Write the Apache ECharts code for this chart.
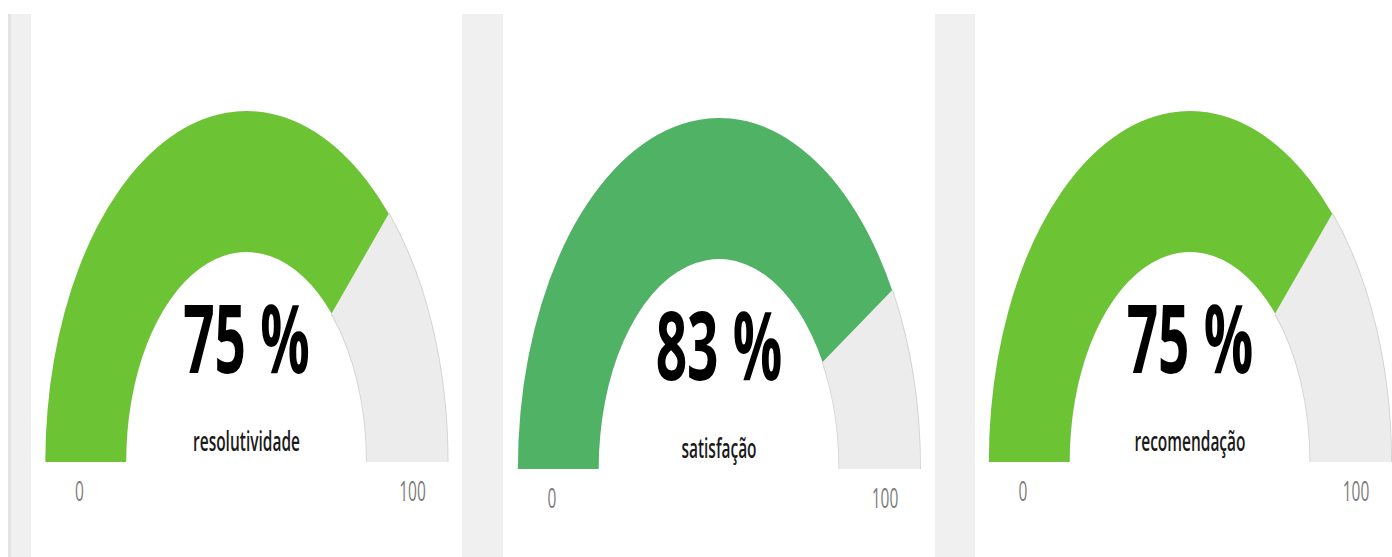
<!DOCTYPE html>
<html>
<head>
<meta charset="utf-8">
<script src="https://cdn.jsdelivr.net/npm/echarts@6/dist/echarts.min.js"></script>
<style>
  html, body { margin: 0; padding: 0; background: #ffffff; overflow: hidden; width: 1392px; height: 557px; }
  #chart { position: absolute; left: 0; top: 0; height: 557px; transform-origin: 0 0; }
</style>
</head>
<body>
<div id="chart"></div>
<script>
// ---- data ----
const categories = ['resolutividade', 'satisfação', 'recomendação'];
const values = [75, 83, 75];
const axisMin = 0;
const axisMax = 100;
const tickLabels = ['0', '100'];

// ---- styling / layout ----
const colors = ['#6cc334', '#4fb265', '#6cc334'];
const trackColor = '#ececec';
const edgeColor = '#d2d2d2';
const S = 1.745;            // horizontal stretch (gauges are drawn wide, then squeezed)
const W = 1392, H = 557;
const centersX = [246.5, 719, 1190];
const centersY = [462, 469, 462];
const R = 351;              // outer radius (vertical px)
const band = 141;           // arc thickness

const el = document.getElementById('chart');
el.style.width = (W * S) + 'px';
el.style.transform = 'scaleX(' + (1 / S) + ')';

const chart = echarts.init(el, null, { renderer: 'svg', width: W * S, height: H });

const series = [];
categories.forEach(function (name, i) {
  const c = [centersX[i] * S, centersY[i]];
  // thin shadow edge around the unfilled track
  series.push({
    type: 'gauge', center: c, radius: R + 1.5,
    startAngle: 180, endAngle: 0, min: axisMin, max: axisMax,
    silent: true, z: 1,
    axisLine: { lineStyle: { width: band + 3, color: [[(values[i] - axisMin) / (axisMax - axisMin), 'rgba(0,0,0,0)'], [1, edgeColor]] } },
    pointer: { show: false }, anchor: { show: false },
    axisTick: { show: false }, splitLine: { show: false }, axisLabel: { show: false },
    title: { show: false }, detail: { show: false },
    data: [{ value: values[i] }]
  });
  series.push({
    type: 'gauge', center: c, radius: R,
    startAngle: 180, endAngle: 0, min: axisMin, max: axisMax,
    z: 2,
    progress: { show: true, width: band, roundCap: false, itemStyle: { color: colors[i] } },
    axisLine: { roundCap: false, lineStyle: { width: band, color: [[1, trackColor]] } },
    pointer: { show: false }, anchor: { show: false },
    axisTick: { show: false }, splitLine: { show: false }, axisLabel: { show: false },
    title: {
      offsetCenter: [0, -22], color: '#1a1a1a',
      fontFamily: 'Open Sans', fontWeight: 600, fontSize: 27
    },
    detail: {
      offsetCenter: [0, -126], color: '#000000',
      fontFamily: 'Open Sans', fontWeight: 'bold', fontSize: 96,
      formatter: '{value} %', valueAnimation: false
    },
    data: [{ value: values[i], name: name }]
  });
});

const graphic = [
  { type: 'rect', silent: true, z: 0, shape: { x: 8 * S, y: 14, width: 3 * S, height: H - 14 }, style: { fill: '#e3e3e3' } },
  { type: 'rect', silent: true, z: 0, shape: { x: 11 * S, y: 14, width: 20 * S, height: H - 14 }, style: { fill: '#f0f0f0' } },
  { type: 'rect', silent: true, z: 0, shape: { x: 462 * S, y: 14, width: 41 * S, height: H - 14 }, style: { fill: '#f0f0f0' } },
  { type: 'rect', silent: true, z: 0, shape: { x: 935 * S, y: 14, width: 40 * S, height: H - 14 }, style: { fill: '#f0f0f0' } }
];
categories.forEach(function (name, i) {
  const cx = centersX[i], cy = centersY[i];
  [[-167, tickLabels[0]], [166, tickLabels[1]]].forEach(function (p) {
    graphic.push({
      type: 'text', silent: true, z: 5,
      x: (cx + p[0]) * S, y: cy + 28,
      style: {
        text: p[1], fill: '#7c7c7c', fontSize: 27, fontFamily: 'Open Sans',
        align: 'center', verticalAlign: 'middle'
      }
    });
  });
});

chart.setOption({
  animation: false,
  backgroundColor: 'transparent',
  graphic: graphic,
  series: series
});
</script>
</body>
</html>
